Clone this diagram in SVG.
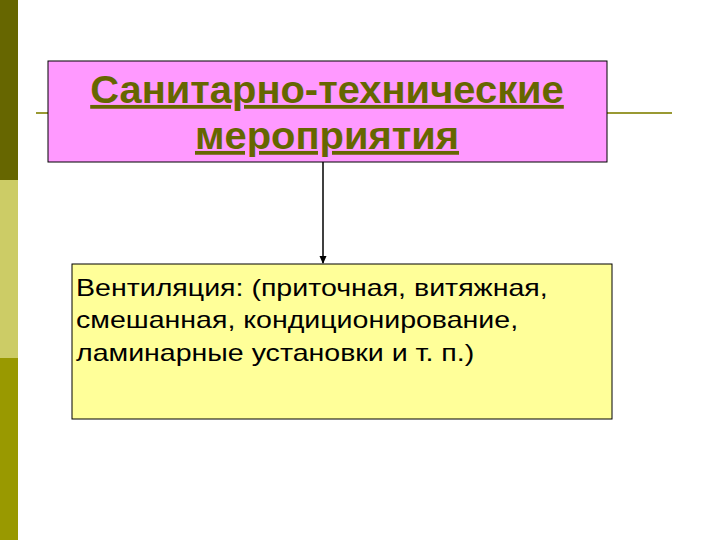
<svg xmlns="http://www.w3.org/2000/svg" width="720" height="540" viewBox="0 0 720 540">
<style>
.title{font-family:"Liberation Sans",Arial,sans-serif;font-size:38px;font-weight:bold;fill:#666600;text-decoration:underline;}
.body{font-family:"Liberation Sans",Arial,sans-serif;font-size:24px;fill:#000;}
</style>
<defs>
<marker id="ah" markerWidth="8" markerHeight="8" refX="7" refY="4" orient="auto" markerUnits="userSpaceOnUse">
<path d="M0,0.5 L8,4 L0,7.5 z" fill="#000"/>
</marker>
</defs>
<rect x="0" y="0" width="720" height="540" fill="#fff"/>
<rect x="0" y="0" width="18" height="180" fill="#666600"/>
<rect x="0" y="180" width="18" height="178" fill="#CCCC66"/>
<rect x="0" y="358" width="18" height="182" fill="#999900"/>
<line x1="36" y1="113" x2="672" y2="113" stroke="#999933" stroke-width="2"/>
<g id="connectors">
<line x1="323" y1="162" x2="323" y2="263" stroke="#000" stroke-width="1.5" marker-end="url(#ah)"/>
</g>
<g id="node-title">
<rect x="48" y="61" width="559" height="101" fill="#FF99FF" stroke="#000" stroke-width="1"/>
<g transform="translate(327,0) scale(1.05,1)">
<text class="title" x="0" y="103" text-anchor="middle">Санитарно-технические</text>
<text class="title" x="0" y="149" text-anchor="middle">мероприятия</text>
</g>
</g>
<g id="node-vent">
<rect x="72" y="264" width="540" height="155" fill="#FFFF99" stroke="#000" stroke-width="1"/>
<g transform="translate(76,0) scale(1.19,1)">
<text class="body" x="0" y="296">Вентиляция: (приточная, витяжная,</text>
<text class="body" x="0" y="328.5">смешанная, кондиционирование,</text>
<text class="body" x="0" y="361">ламинарные установки и т. п.)</text>
</g>
</g>
</svg>
